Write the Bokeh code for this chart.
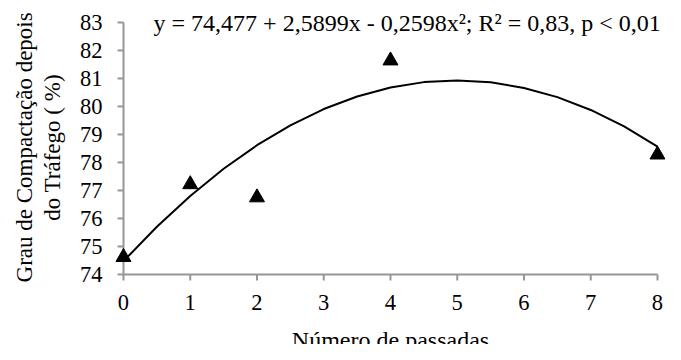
import math
from bokeh.plotting import figure
from bokeh.models import Range1d, Label, LabelSet, ColumnDataSource
from bokeh.embed import file_html
from bokeh.resources import INLINE

# observed points
passadas = [0, 1, 2, 4, 8]
grau = [74.62, 77.22, 76.75, 81.64, 78.28]

# fitted curve values
curve_x = [0, 0.5, 1, 1.5, 2, 2.5, 3, 3.5, 4, 4.5, 5, 5.5, 6, 6.5, 7, 7.5, 8]
curve_y = [74.477, 75.707, 76.807, 77.777, 78.618, 79.328, 79.909, 80.359,
           80.680, 80.871, 80.932, 80.863, 80.664, 80.335, 79.876, 79.288, 78.569]

x_ticks = [0, 1, 2, 3, 4, 5, 6, 7, 8]
y_ticks = [74, 75, 76, 77, 78, 79, 80, 81, 82, 83]

equation = "y = 74,477 + 2,5899x - 0,2598x²; R² = 0,83, p < 0,01"
x_title = "Número de passadas"
y_title = "Grau de Compactação depois\ndo Tráfego ( %)"

FONT = "Liberation Serif"
AXC = "#969696"

# the frame fills the whole canvas; ranges leave room for the axis texts
p = figure(width=665, height=344, output_backend="svg", toolbar_location=None,
           x_range=Range1d(-1.8427, 8.1199), y_range=Range1d(71.5, 83.786),
           min_border=0, min_border_left=0, min_border_right=0,
           min_border_top=0, min_border_bottom=0)
p.outline_line_color = None
p.grid.visible = False
p.axis.visible = False
p.background_fill_color = "white"

x0, y0 = x_ticks[0], y_ticks[0]

# axis lines
p.segment(x0=[x0, x0], y0=[y0, y0], x1=[x_ticks[-1], x0], y1=[y0, y_ticks[-1]],
          line_color=AXC, line_width=2)
# tick marks (6 px, outside)
p.ray(x=x_ticks, y=[y0] * len(x_ticks), length=6, length_units="screen",
      angle=-math.pi / 2, line_color=AXC, line_width=2)
p.ray(x=[x0] * len(y_ticks), y=y_ticks, length=6, length_units="screen",
      angle=math.pi, line_color=AXC, line_width=2)

p.line(curve_x, curve_y, line_color="black", line_width=2)
p.scatter(passadas, grau, marker="triangle", size=15, fill_color="black",
          line_color="black")

# tick labels
xsrc = ColumnDataSource(dict(x=x_ticks, y=[y0] * len(x_ticks),
                             t=[str(v) for v in x_ticks]))
ysrc = ColumnDataSource(dict(x=[x0] * len(y_ticks), y=y_ticks,
                             t=[str(v) for v in y_ticks]))
p.add_layout(LabelSet(x="x", y="y", text="t", source=xsrc, y_offset=-35,
                      text_align="center", text_baseline="alphabetic",
                      text_font=FONT, text_font_size="22.5px", text_color="black"))
p.add_layout(LabelSet(x="x", y="y", text="t", source=ysrc, x_offset=-21,
                      text_align="right", text_baseline="middle",
                      text_font=FONT, text_font_size="22.5px", text_color="black"))

# axis titles
p.add_layout(Label(x=4, y=y0, y_offset=-65, text=x_title,
                   text_align="center", text_baseline="alphabetic",
                   text_font=FONT, text_font_size="24px", text_color="black"))
p.add_layout(Label(x=x0, y=78.54, x_offset=-85, text=y_title,
                   angle=math.pi / 2, text_align="center", text_baseline="middle",
                   text_line_height=1.15, text_font=FONT, text_font_size="23px",
                   text_color="black"))

# regression equation
p.add_layout(Label(x=4.25, y=y_ticks[-1], text=equation, text_align="center",
                   text_baseline="middle", text_font=FONT,
                   text_font_size="24px", text_color="black"))

open("out.html", "w").write(file_html(p, INLINE))
